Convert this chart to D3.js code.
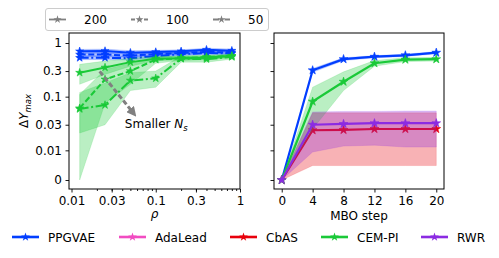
<!DOCTYPE html>
<html>
<head>
<meta charset="utf-8">
<script src="https://cdn.jsdelivr.net/npm/d3@7"></script>
<style>
  body { margin: 0; background: #fff; }
  text { font-family: 'DejaVu Sans', sans-serif; }
</style>
</head>
<body>
<div id="chart"></div>
<script>
'use strict'

// value shown as "0" on the y axis
var ZERO = 0.0028;

var yTickValues = [ZERO, 0.01, 0.03, 0.1, 0.3, 1];
var yTickLabels = ['0', '0.01', '0.03', '0.1', '0.3', '1'];
var rhoTickValues = [0.01, 0.03, 0.1, 0.3, 1];
var rhoTickLabels = ['0.01', '0.03', '0.1', '0.3', '1'];
var stepTicks = [0, 4, 8, 12, 16, 20];

// left panel: max gain vs rho, for three sample sizes
var rho = [0.0125, 0.025, 0.05, 0.1, 0.2, 0.4, 0.8];
var nsLevels = ['200', '100', '50'];

var ppgvae200 = [0.70, 0.71, 0.66, 0.68, 0.70, 0.75, 0.72];
var ppgvae200Lo = [0.64, 0.65, 0.61, 0.63, 0.65, 0.70, 0.67];
var ppgvae200Hi = [0.76, 0.77, 0.72, 0.73, 0.75, 0.80, 0.77];
var ppgvae100 = [0.61, 0.61, 0.58, 0.62, 0.65, 0.68, 0.67];
var ppgvae100Lo = [0.56, 0.56, 0.54, 0.58, 0.60, 0.63, 0.62];
var ppgvae100Hi = [0.66, 0.66, 0.63, 0.67, 0.70, 0.73, 0.72];
var ppgvae50 = [0.53, 0.53, 0.52, 0.57, 0.62, 0.65, 0.64];
var ppgvae50Lo = [0.49, 0.49, 0.48, 0.53, 0.58, 0.61, 0.60];
var ppgvae50Hi = [0.58, 0.58, 0.57, 0.62, 0.67, 0.70, 0.69];

var cempi200 = [0.28, 0.35, 0.44, 0.51, 0.52, 0.53, 0.58];
var cempi200Lo = [0.17, 0.26, 0.37, 0.47, 0.48, 0.49, 0.54];
var cempi200Hi = [0.40, 0.46, 0.52, 0.56, 0.57, 0.58, 0.62];
var cempi100 = [0.061, 0.21, 0.30, 0.49, 0.52, 0.55, 0.57];
var cempi100Lo = [0, 0.075, 0.17, 0.42, 0.47, 0.50, 0.53];
var cempi100Hi = [0.11, 0.32, 0.42, 0.55, 0.57, 0.60, 0.61];
var cempi50 = [0.059, 0.07, 0.20, 0.22, 0.51, 0.50, 0.55];
var cempi50Lo = [0.021, 0.03, 0.13, 0.15, 0.44, 0.44, 0.50];
var cempi50Hi = [0.12, 0.18, 0.28, 0.30, 0.57, 0.56, 0.60];

// annotation: arrow from/to and label anchor, in data units
var arrowFrom = [0.0216, 0.296];
var arrowTo = [0.054, 0.05];
var noteAt = [0.043, 0.026];

// right panel: max gain per MBO step
var steps = [0, 4, 8, 12, 16, 20];
var stepPPGVAE = [0, 0.31, 0.50, 0.555, 0.59, 0.66];
var stepPPGVAELo = [0, 0.285, 0.47, 0.53, 0.56, 0.63];
var stepPPGVAEHi = [0, 0.335, 0.53, 0.58, 0.62, 0.69];
var stepCbAS = [0, 0.0237, 0.024, 0.025, 0.025, 0.025];
var stepCbASLo = [0, 0.0052, 0.0052, 0.0052, 0.0052, 0.0052];
var stepCbASHi = [0, 0.05, 0.05, 0.05, 0.05, 0.05];
var stepCEMPI = [0, 0.081, 0.19, 0.42, 0.49, 0.50];
var stepCEMPILo = [0, 0.025, 0.13, 0.37, 0.45, 0.46];
var stepCEMPIHi = [0, 0.15, 0.29, 0.47, 0.53, 0.54];
var stepRWR = [0, 0.030, 0.031, 0.032, 0.032, 0.032];
var stepRWRLo = [0, 0.0093, 0.012, 0.0125, 0.0115, 0.0115];
var stepRWRHi = [0, 0.052, 0.053, 0.053, 0.054, 0.054];

var methods = ['PPGVAE', 'AdaLead', 'CbAS', 'CEM-PI', 'RWR'];
var colors = {
  'PPGVAE': '#023eff',
  'AdaLead': '#f14cc1',
  'CbAS': '#e8000b',
  'CEM-PI': '#1ac938',
  'RWR': '#8b2be2'
};

var dashes = { '200': null, '100': '6,2.6', '50': '9,2.6,2,2.6' };

(function() {
  var width = 499, height = 258;
  var left = { x0: 69, x1: 240, y0: 33, y1: 189 };
  var right = { x0: 274, x1: 444, y0: 33, y1: 189 };

  var svg = d3.select('#chart').append('svg')
    .attr('width', width)
    .attr('height', height);

  var yScale = d3.scaleLog().domain([ZERO, 1]).range([180, 43]);
  var y = function(v) { return yScale(Math.max(v, ZERO)); };
  var xRho = d3.scaleLog().domain([0.01, 1]).range([71.5, 240]);
  var xStep = d3.scaleLinear().domain([-1, 21]).range([right.x0, right.x1]);

  var star = function(size) { return d3.symbol().type(d3.symbolStar).size(size)(); };

  function drawSeries(g, xs, xScale, mean, lo, hi, color, dash, lw, msize) {
    var idx = d3.range(xs.length);
    var area = d3.area()
      .x(function(i) { return xScale(xs[i]); })
      .y0(function(i) { return y(lo[i]); })
      .y1(function(i) { return y(hi[i]); });
    g.append('path')
      .attr('d', area(idx))
      .attr('fill', color)
      .attr('fill-opacity', 0.3)
      .attr('stroke', color)
      .attr('stroke-opacity', 0.3)
      .attr('stroke-width', 0.5);

    var line = d3.line()
      .x(function(i) { return xScale(xs[i]); })
      .y(function(i) { return y(mean[i]); });
    g.append('path')
      .attr('d', line(idx))
      .attr('fill', 'none')
      .attr('stroke', color)
      .attr('stroke-width', lw)
      .attr('stroke-dasharray', dash);

    g.selectAll(null)
      .data(idx)
      .enter()
      .append('path')
      .attr('d', star(msize))
      .attr('transform', function(i) {
        return 'translate(' + xScale(xs[i]) + ',' + y(mean[i]) + ')';
      })
      .attr('fill', color)
      .attr('stroke', color)
      .attr('stroke-width', 0.6);
  }

  // clip both panels to their frames
  var defs = svg.append('defs');
  defs.append('clipPath').attr('id', 'clip-left').append('rect')
    .attr('x', left.x0).attr('y', left.y0)
    .attr('width', left.x1 - left.x0).attr('height', left.y1 - left.y0);
  defs.append('clipPath').attr('id', 'clip-right').append('rect')
    .attr('x', right.x0).attr('y', right.y0)
    .attr('width', right.x1 - right.x0).attr('height', right.y1 - right.y0);

  // left panel
  var gl = svg.append('g').attr('clip-path', 'url(#clip-left)');
  drawSeries(gl, rho, xRho, ppgvae200, ppgvae200Lo, ppgvae200Hi, colors['PPGVAE'], dashes['200'], 2, 20);
  drawSeries(gl, rho, xRho, ppgvae100, ppgvae100Lo, ppgvae100Hi, colors['PPGVAE'], dashes['100'], 2, 20);
  drawSeries(gl, rho, xRho, ppgvae50, ppgvae50Lo, ppgvae50Hi, colors['PPGVAE'], dashes['50'], 2, 20);
  drawSeries(gl, rho, xRho, cempi200, cempi200Lo, cempi200Hi, colors['CEM-PI'], dashes['200'], 2, 20);
  drawSeries(gl, rho, xRho, cempi100, cempi100Lo, cempi100Hi, colors['CEM-PI'], dashes['100'], 2, 20);
  drawSeries(gl, rho, xRho, cempi50, cempi50Lo, cempi50Hi, colors['CEM-PI'], dashes['50'], 2, 20);

  // arrow annotation
  defs.append('marker')
    .attr('id', 'arrowhead')
    .attr('viewBox', '0 0 10 10')
    .attr('refX', 5).attr('refY', 5)
    .attr('markerWidth', 3.3).attr('markerHeight', 3.3)
    .attr('orient', 'auto')
    .append('path')
    .attr('d', 'M0,0 L10,5 L0,10 z')
    .attr('fill', '#808080');

  svg.append('line')
    .attr('x1', xRho(arrowFrom[0])).attr('y1', y(arrowFrom[1]))
    .attr('x2', xRho(arrowTo[0])).attr('y2', y(arrowTo[1]))
    .attr('stroke', '#808080')
    .attr('stroke-width', 3)
    .attr('stroke-dasharray', '5,2.5')
    .attr('marker-end', 'url(#arrowhead)');

  var note = svg.append('text')
    .attr('x', xRho(noteAt[0]))
    .attr('y', y(noteAt[1]))
    .attr('font-size', 12)
    .attr('fill', '#000');
  note.append('tspan').text('Smaller ');
  note.append('tspan').attr('font-style', 'italic').text('N');
  note.append('tspan').attr('font-style', 'italic').attr('font-size', 8.5).attr('dy', 2.5).text('s');

  // right panel
  var gr = svg.append('g').attr('clip-path', 'url(#clip-right)');
  drawSeries(gr, steps, xStep, stepPPGVAE, stepPPGVAELo, stepPPGVAEHi, colors['PPGVAE'], null, 2.2, 24);
  drawSeries(gr, steps, xStep, stepCbAS, stepCbASLo, stepCbASHi, colors['CbAS'], null, 2.2, 24);
  drawSeries(gr, steps, xStep, stepCEMPI, stepCEMPILo, stepCEMPIHi, colors['CEM-PI'], null, 2.2, 24);
  drawSeries(gr, steps, xStep, stepRWR, stepRWRLo, stepRWRHi, colors['RWR'], null, 2.2, 24);

  // frames and axes
  [left, right].forEach(function(p) {
    svg.append('rect')
      .attr('x', p.x0).attr('y', p.y0)
      .attr('width', p.x1 - p.x0).attr('height', p.y1 - p.y0)
      .attr('fill', 'none')
      .attr('stroke', '#000')
      .attr('stroke-width', 1);
  });

  function styleAxis(g) {
    g.select('.domain').remove();
    g.selectAll('.tick line').attr('stroke', '#000').attr('stroke-width', 0.9);
    g.selectAll('.tick text').attr('font-size', 12).attr('fill', '#000')
      .attr('font-family', "'DejaVu Sans', sans-serif");
  }

  var yAxisL = d3.axisLeft(yScale)
    .tickValues(yTickValues)
    .tickSize(3.5).tickPadding(3.5)
    .tickFormat(function(d, i) { return yTickLabels[i]; });
  svg.append('g').attr('transform', 'translate(' + left.x0 + ',0)').call(yAxisL).call(styleAxis);

  var yAxisR = d3.axisLeft(yScale)
    .tickValues(yTickValues)
    .tickSize(3.5)
    .tickFormat('');
  svg.append('g').attr('transform', 'translate(' + right.x0 + ',0)').call(yAxisR).call(styleAxis);

  var xAxisL = d3.axisBottom(xRho)
    .tickValues(rhoTickValues)
    .tickSize(3.5).tickPadding(3.5)
    .tickFormat(function(d, i) { return rhoTickLabels[i]; });
  svg.append('g').attr('transform', 'translate(0,' + left.y1 + ')').call(xAxisL).call(styleAxis);

  var minor = [];
  [0.01, 0.1].forEach(function(base) {
    d3.range(2, 10).forEach(function(k) { minor.push(base * k); });
  });
  var xAxisMinor = d3.axisBottom(xRho).tickValues(minor).tickSize(2).tickFormat('');
  svg.append('g').attr('transform', 'translate(0,' + left.y1 + ')').call(xAxisMinor).call(styleAxis);

  var xAxisR = d3.axisBottom(xStep)
    .tickValues(stepTicks)
    .tickSize(3.5).tickPadding(3.5);
  svg.append('g').attr('transform', 'translate(0,' + right.y1 + ')').call(xAxisR).call(styleAxis);

  // axis labels
  svg.append('text')
    .attr('x', (left.x0 + left.x1) / 2).attr('y', 218)
    .attr('text-anchor', 'middle').attr('font-size', 12).attr('font-style', 'italic')
    .text('ρ');
  svg.append('text')
    .attr('x', (right.x0 + right.x1) / 2).attr('y', 220)
    .attr('text-anchor', 'middle').attr('font-size', 12)
    .text('MBO step');

  var yl = svg.append('text')
    .attr('transform', 'translate(28,' + ((left.y0 + left.y1) / 2) + ') rotate(-90)')
    .attr('text-anchor', 'middle').attr('font-size', 12);
  yl.append('tspan').text('Δ');
  yl.append('tspan').attr('font-style', 'italic').text('Y');
  yl.append('tspan').attr('font-style', 'italic').attr('font-size', 8.5).attr('dy', 2.5).text('max');

  // top legend (sample sizes)
  svg.append('rect')
    .attr('x', 45.5).attr('y', 8.5).attr('width', 223).attr('height', 22)
    .attr('rx', 2.5)
    .attr('fill', '#fff').attr('stroke', '#cccccc').attr('stroke-width', 1);
  var nsX = [49, 131, 213];
  nsLevels.forEach(function(ns, i) {
    var gx = nsX[i];
    svg.append('line')
      .attr('x1', gx).attr('x2', gx + 17).attr('y1', 19.5).attr('y2', 19.5)
      .attr('stroke', '#808080').attr('stroke-width', 1.8)
      .attr('stroke-dasharray', ns === '200' ? null : (ns === '100' ? '4,2.5' : '6,2,1.5,2'));
    svg.append('path')
      .attr('d', star(20))
      .attr('transform', 'translate(' + (gx + 8.5) + ',19.5)')
      .attr('fill', '#808080');
    svg.append('text')
      .attr('x', gx + 35).attr('y', 24)
      .attr('font-size', 12)
      .text(ns);
  });

  // bottom legend (methods)
  var legX = [12, 119, 230, 321, 421];
  methods.forEach(function(m, i) {
    var gx = legX[i];
    svg.append('line')
      .attr('x1', gx).attr('x2', gx + 27).attr('y1', 237).attr('y2', 237)
      .attr('stroke', colors[m]).attr('stroke-width', 2.6);
    svg.append('path')
      .attr('d', star(24))
      .attr('transform', 'translate(' + (gx + 13.5) + ',237)')
      .attr('fill', colors[m]);
    svg.append('text')
      .attr('x', gx + 36).attr('y', 241.5)
      .attr('font-size', 12)
      .text(m);
  });
})();
</script>
</body>
</html>
